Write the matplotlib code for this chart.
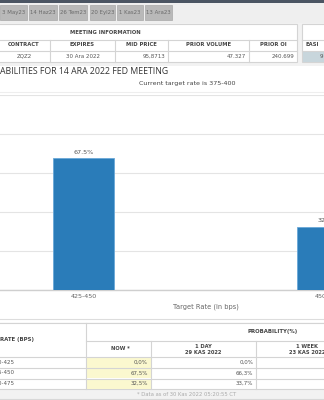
import matplotlib.pyplot as plt
from matplotlib.patches import Rectangle

# meeting tabs
tabs = ['3 May23', '14 Haz23', '26 Tem23', '20 Eyl23', '1 Kas23', '13 Ara23']
tab_x = [(0, 27), (29, 57), (59, 87), (90, 115), (117, 143), (145, 172)]

# meeting information
info_cols = ['CONTRACT', 'EXPIRES', 'MID PRICE', 'PRIOR VOLUME', 'PRIOR OI']
info_vals = ['ZQZ2', '30 Ara 2022', '95,8713', '47.327', '240.699']

# target rate probabilities
rates = ['425-450', '450-475']
probs = [67.5, 32.5]

# probability table
table_rates = ['400-425', '425-450', '450-475']
now_probs = [0.0, 67.5, 32.5]
day_probs = [0.0, 66.3, 33.7]

W, H = 324, 400
fig = plt.figure(figsize=(W / 100, H / 100), dpi=100)
fig.patch.set_facecolor('white')

bg = fig.add_axes([0, 0, 1, 1])
bg.set_xlim(0, W)
bg.set_ylim(H, 0)
bg.axis('off')

grey_txt = '#555555'
line_c = '#d4d4d4'


def box(x0, y0, x1, y1, fc='none', ec=line_c, lw=0.8, z=1):
    bg.add_patch(Rectangle((x0, y0), x1 - x0, y1 - y0, facecolor=fc,
                           edgecolor=ec, linewidth=lw, zorder=z))


def hline(y, x0, x1, c=line_c, lw=0.8):
    bg.plot([x0, x1], [y, y], color=c, lw=lw, zorder=2)


def vline(x, y0, y1, c=line_c, lw=0.8):
    bg.plot([x, x], [y0, y1], color=c, lw=lw, zorder=2)


def txt(x, y, s, size=4.3, ha='center', c=grey_txt, weight='normal',
        family='DejaVu Sans'):
    bg.text(x, y, s, fontsize=size, ha=ha, va='center', color=c,
            fontweight=weight, family=family, zorder=3)


# header strip + tabs
box(0, 0, W, 23, fc='#efefef', ec='none', z=0)
box(0, 0, W, 2.5, fc='#4b5563', ec='none')
for (x0, x1), t in zip(tab_x, tabs):
    box(x0, 5, x1, 20, fc='#b9b9b9', ec='#a8a8a8', lw=0.5)
    txt((x0 + x1) / 2, 12.5, t, size=3.9, c='#6a6a6a')

# meeting information table
box(0, 23, W, 66, fc='#f2f2f2', ec='none', z=0)
box(-2, 24, 297, 62, fc='white')
box(302, 24, W + 2, 62, fc='white')
hline(39.5, -2, 297)
hline(39.5, 302, W)
hline(50.5, -2, 297)
hline(50.5, 302, W)
box(302.5, 51, W, 61.5, fc='#c8d6dc', ec='none')
txt(105, 32, 'MEETING INFORMATION', size=3.8, weight='bold', c='#444444')
col_edges = [-2, 50, 115, 168, 249, 297]
for x in col_edges[1:-1]:
    vline(x, 39.5, 62)
for i, c in enumerate(info_cols):
    cx = (col_edges[i] + col_edges[i + 1]) / 2
    txt(cx, 45, c, size=3.8, weight='bold', c='#444444')
for i, v in enumerate(info_vals):
    if i < 2:
        txt((col_edges[i] + col_edges[i + 1]) / 2, 56, v, size=4.0)
    else:
        txt(col_edges[i + 1] - 3, 56, v, size=4.0, ha='right')
txt(305, 45, 'EASI', size=3.8, weight='bold', c='#444444', ha='left')
txt(320, 56, '9', size=4.0, ha='left')

# chart title
txt(0, 72, 'ABILITIES FOR 14 ARA 2022 FED MEETING',
    size=6.3, ha='left', c='#333333', family='Open Sans')
txt(187, 84, 'Current target rate is 375-400', size=4.6, c='#444444')
hline(92, 0, W, c='#eeeeee')
hline(319, 0, W, c='#dddddd')

# bar chart
ax = fig.add_axes([-38.5 / W, (H - 290) / H, 488 / W, 195 / H])
ax.bar(rates, probs, width=0.25, color='#2a7cb9', edgecolor='#6aa8d8',
       linewidth=0.6, zorder=3)
ax.set_xlim(-0.5, 1.5)
ax.set_ylim(0, 100)
ax.set_yticks(range(0, 101, 20))
ax.grid(axis='y', color='#e4e4e4', lw=0.8)
ax.set_axisbelow(True)
for s in ['top', 'right', 'left']:
    ax.spines[s].set_visible(False)
ax.spines['bottom'].set_color('#cfcfcf')
ax.spines['bottom'].set_linewidth(1.0)
ax.tick_params(axis='y', left=False, labelleft=False)
ax.tick_params(axis='x', length=0, labelsize=4.6, labelcolor='#666666', pad=3)
ax.set_xlabel('Target Rate (in bps)', fontsize=4.8, color='#666666', labelpad=3)
ax.patch.set_alpha(0)
for x, p in zip(rates, probs):
    ax.annotate(f'{p:.1f}%', (x, p), xytext=(0, 2.5), textcoords='offset points',
                ha='center', va='bottom', fontsize=4.6, color='#555555')

# probability table
box(-2, 323, W + 2, 399, fc='#f2f2f2', ec='#d8d8d8', z=0)
box(-2, 323, W + 2, 389, fc='white')
vline(86, 323, 389)
hline(341, 86, W)
hline(357, -2, W)
vline(151, 341, 389)
vline(256, 341, 389)
for y in [368, 378.5]:
    hline(y, -2, W)
for i in range(3):
    box(86.5, 357.5 + i * 10.5, 151, 367.5 + i * 10.5, fc='#fbf8cf', ec='none')
txt(0.5, 340, 'RATE (BPS)', size=3.9, ha='left', weight='bold', c='#444444')
txt(273, 332, 'PROBABILITY(%)', size=3.9, weight='bold', c='#444444')
txt(120, 349, 'NOW *', size=3.7, weight='bold', c='#444444')
txt(203, 347, '1 DAY', size=3.7, weight='bold', c='#444444')
txt(203, 353, '29 KAS 2022', size=3.7, weight='bold', c='#444444')
txt(307, 347, '1 WEEK', size=3.7, weight='bold', c='#444444')
txt(307, 353, '23 KAS 2022', size=3.7, weight='bold', c='#444444')
for i, r in enumerate(table_rates):
    y = 362.5 + i * 10.5
    txt(15, y, r, size=4.0, ha='right')
    txt(148, y, f'{now_probs[i]:.1f}%'.replace('.', ','), size=4.0, ha='right')
    txt(253, y, f'{day_probs[i]:.1f}%'.replace('.', ','), size=4.0, ha='right')
txt(187, 394, '* Data as of 30 Kas 2022 05:20:55 CT', size=3.8, c='#aaaaaa')

fig.savefig('out.png', dpi=100)
